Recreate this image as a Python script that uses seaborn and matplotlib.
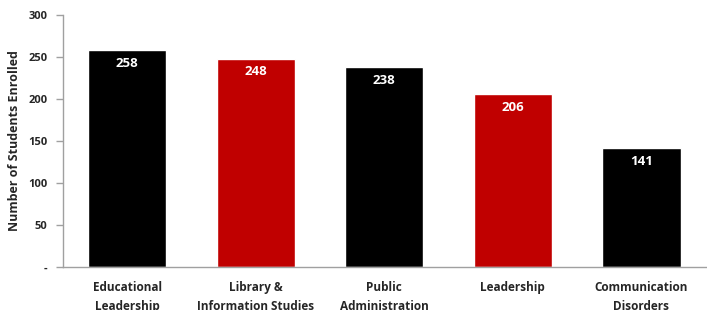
import numpy as np
import matplotlib
matplotlib.use('Agg')
import matplotlib.pyplot as plt
import seaborn as sns

# データ
programs = ['Educational\nLeadership', 'Library &\nInformation Studies',
            'Public\nAdministration', 'Leadership', 'Communication\nDisorders']
enrolled = [258, 248, 238, 206, 141]
bar_colors = ['#000000', '#c00000', '#000000', '#c00000', '#000000']
y_ticks = [0, 50, 100, 150, 200, 250, 300]
y_tick_labels = ['-', '50', '100', '150', '200', '250', '300']

sns.set_style('white')
plt.rcParams['font.family'] = ['Open Sans', 'DejaVu Sans']

fig = plt.figure(figsize=(7.07, 3.10), dpi=100)
ax = fig.add_axes([0.089, 0.139, 0.909, 0.813])

sns.barplot(x=programs, y=enrolled, hue=programs, palette=bar_colors,
            legend=False, width=0.61, saturation=1, ax=ax)

# 値ラベル
for i, v in enumerate(enrolled):
    ax.text(i, v - 8, str(v), ha='center', va='top', color='white',
            fontsize=9.5, fontweight='bold')

ax.set_ylim(0, 300)
ax.set_xlim(-0.5, len(programs) - 0.5)
ax.set_yticks(y_ticks)
ax.set_yticklabels(y_tick_labels, fontsize=8, fontweight='bold')
ax.set_ylabel('Number of Students Enrolled', fontsize=9, fontweight='bold', labelpad=5)

# x軸ラベル
ax.set_xticks(range(len(programs)))
ax.set_xticklabels(programs, fontsize=8.5, fontweight='bold', linespacing=1.6)
ax.tick_params(axis='x', which='major', length=0, pad=10)
ax.set_xticks(np.arange(-0.5, len(programs)), minor=True)
ax.tick_params(axis='x', which='minor', length=5, color='#a0a0a0', width=1, direction='out')
ax.tick_params(axis='y', length=5, color='#a0a0a0', width=1, direction='out', left=True, pad=6)

for s in ['top', 'right']:
    ax.spines[s].set_visible(False)
for s in ['left', 'bottom']:
    ax.spines[s].set_color('#a0a0a0')
    ax.spines[s].set_linewidth(1)

fig.savefig('out.png', dpi=100)
